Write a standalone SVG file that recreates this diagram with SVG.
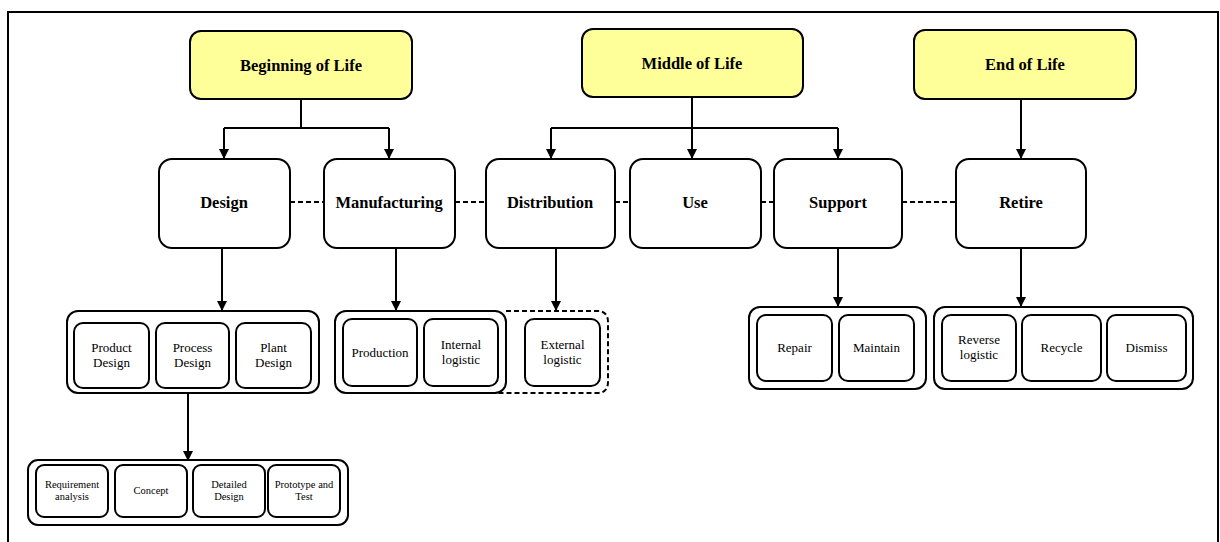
<svg xmlns="http://www.w3.org/2000/svg" width="1220" height="542" viewBox="0 0 1220 542">
<defs>
<marker id="ah" viewBox="0 0 10 10" refX="10" refY="5" markerWidth="10" markerHeight="10" markerUnits="userSpaceOnUse" orient="auto">
<path d="M0,0 L10,5 L0,10 z" fill="#000"/>
</marker>
<style>
.frame{fill:#fff;stroke:#000;stroke-width:2}
.phase{fill:#ffff99;stroke:#000;stroke-width:2}
.main{fill:#fff;stroke:#000;stroke-width:2}
.grp{fill:none;stroke:#000;stroke-width:2}
.sub{fill:#fff;stroke:#000;stroke-width:2}
.dash{fill:none;stroke:#000;stroke-width:2;stroke-dasharray:5,3}
.line{fill:none;stroke:#000;stroke-width:2}
.arr{fill:none;stroke:#000;stroke-width:2;marker-end:url(#ah)}
.tb{font-family:"Liberation Serif","Times New Roman",serif;font-weight:bold;font-size:16.5px;text-anchor:middle;fill:#000}
.tm{font-family:"Liberation Serif","Times New Roman",serif;font-size:13px;text-anchor:middle;fill:#000}
.ts{font-family:"Liberation Serif","Times New Roman",serif;font-size:10.5px;text-anchor:middle;fill:#000}
</style>
</defs>
<rect class="frame" x="8" y="12" width="1210" height="545"/>

<g id="connectors">
<path class="line" d="M301,99 V128 M224,128 H389"/>
<path class="arr" d="M224,128 V159"/>
<path class="arr" d="M389,128 V159"/>
<path class="line" d="M551,128 H838"/>
<path class="arr" d="M692,97 V159"/>
<path class="arr" d="M551,128 V159"/>
<path class="arr" d="M838,128 V159"/>
<path class="arr" d="M1021,99 V159"/>
<path class="dash" d="M290,202 H324 M455,202 H486 M615,202 H630 M761,202 H774 M902,202 H956"/>
<path class="arr" d="M222,248 V311"/>
<path class="arr" d="M396,248 V311"/>
<path class="arr" d="M556,248 V311"/>
<path class="arr" d="M838,248 V307"/>
<path class="arr" d="M1021,248 V307"/>
<path class="arr" d="M188,393 V461"/>
</g>

<g id="bol"><rect class="phase" x="190" y="31" width="222" height="68" rx="11"/><text class="tb" x="301" y="71">Beginning of Life</text></g>
<g id="mol"><rect class="phase" x="582" y="29" width="221" height="68" rx="11"/><text class="tb" x="692" y="69">Middle of Life</text></g>
<g id="eol"><rect class="phase" x="914" y="30" width="222" height="69" rx="11"/><text class="tb" x="1025" y="70">End of Life</text></g>

<g id="design"><rect class="main" x="159" y="159" width="131" height="89" rx="13"/><text class="tb" x="224" y="208">Design</text></g>
<g id="manufacturing"><rect class="main" x="324" y="159" width="131" height="89" rx="13"/><text class="tb" x="389" y="208">Manufacturing</text></g>
<g id="distribution"><rect class="main" x="486" y="159" width="129" height="89" rx="13"/><text class="tb" x="550" y="208">Distribution</text></g>
<g id="use"><rect class="main" x="630" y="159" width="131" height="89" rx="13"/><text class="tb" x="695" y="208">Use</text></g>
<g id="support"><rect class="main" x="774" y="159" width="128" height="89" rx="13"/><text class="tb" x="838" y="208">Support</text></g>
<g id="retire"><rect class="main" x="956" y="159" width="130" height="89" rx="13"/><text class="tb" x="1021" y="208">Retire</text></g>

<g id="design-group">
<rect class="grp" x="67" y="311" width="252" height="82" rx="11"/>
<rect class="sub" x="74" y="323" width="75" height="65" rx="9"/>
<text class="tm" x="111.5" y="352">Product</text><text class="tm" x="111.5" y="367">Design</text>
<rect class="sub" x="156" y="323" width="73" height="65" rx="9"/>
<text class="tm" x="192.5" y="352">Process</text><text class="tm" x="192.5" y="367">Design</text>
<rect class="sub" x="236" y="323" width="75" height="65" rx="9"/>
<text class="tm" x="273.5" y="352">Plant</text><text class="tm" x="273.5" y="367">Design</text>
</g>

<g id="manufacturing-group">
<path class="dash" d="M506,311 H597 Q608,311 608,322 V382 Q608,393 597,393 H497"/>
<rect class="grp" x="335" y="311" width="171" height="82" rx="11"/>
<rect class="sub" x="343" y="319" width="74" height="67" rx="9"/>
<text class="tm" x="380" y="357">Production</text>
<rect class="sub" x="424" y="319" width="74" height="67" rx="9"/>
<text class="tm" x="461" y="349">Internal</text><text class="tm" x="461" y="364">logistic</text>
<rect class="sub" x="525" y="319" width="75" height="67" rx="9"/>
<text class="tm" x="562.5" y="349">External</text><text class="tm" x="562.5" y="364">logistic</text>
</g>

<g id="support-group">
<rect class="grp" x="749" y="307" width="177" height="82" rx="11"/>
<rect class="sub" x="757" y="315" width="75" height="66" rx="9"/>
<text class="tm" x="794.5" y="352">Repair</text>
<rect class="sub" x="839" y="315" width="75" height="66" rx="9"/>
<text class="tm" x="876.5" y="352">Maintain</text>
</g>

<g id="retire-group">
<rect class="grp" x="934" y="307" width="259" height="82" rx="11"/>
<rect class="sub" x="942" y="315" width="74" height="66" rx="9"/>
<text class="tm" x="979" y="344">Reverse</text><text class="tm" x="979" y="359">logistic</text>
<rect class="sub" x="1022" y="315" width="79" height="66" rx="9"/>
<text class="tm" x="1061.5" y="352">Recycle</text>
<rect class="sub" x="1107" y="315" width="79" height="66" rx="9"/>
<text class="tm" x="1146.5" y="352">Dismiss</text>
</g>

<g id="process-group">
<rect class="grp" x="28" y="460" width="320" height="65" rx="10"/>
<rect class="sub" x="36" y="465" width="72" height="52" rx="8"/>
<text class="ts" x="72" y="488">Requirement</text><text class="ts" x="72" y="500">analysis</text>
<rect class="sub" x="115" y="465" width="72" height="52" rx="8"/>
<text class="ts" x="151" y="494">Concept</text>
<rect class="sub" x="193" y="465" width="72" height="52" rx="8"/>
<text class="ts" x="229" y="488">Detailed</text><text class="ts" x="229" y="500">Design</text>
<rect class="sub" x="268" y="465" width="72" height="52" rx="8"/>
<text class="ts" x="304" y="488">Prototype and</text><text class="ts" x="304" y="500">Test</text>
</g>
</svg>
